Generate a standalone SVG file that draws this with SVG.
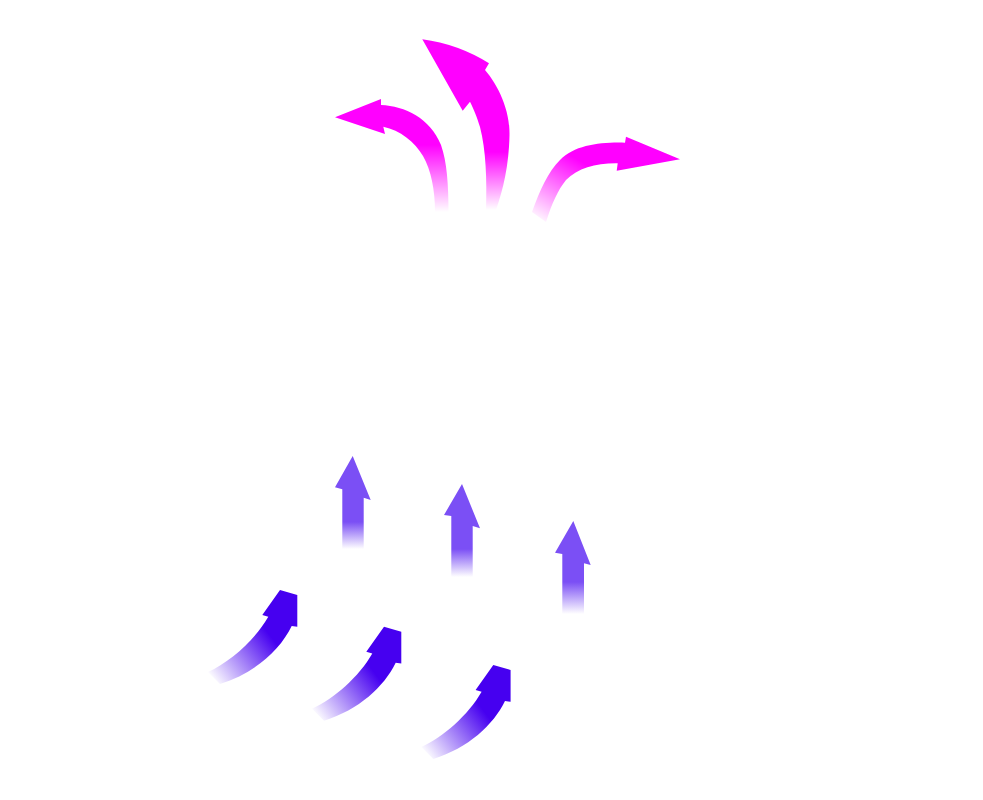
<svg xmlns="http://www.w3.org/2000/svg" xmlns:xlink="http://www.w3.org/1999/xlink" width="983" height="800" viewBox="0 0 983 800">
<defs>
<linearGradient id="gm1" gradientUnits="userSpaceOnUse" x1="0" y1="212" x2="0" y2="145"><stop offset="0" stop-color="#FF00FF" stop-opacity="0"/><stop offset="1" stop-color="#FF00FF"/></linearGradient>
<linearGradient id="gm2" gradientUnits="userSpaceOnUse" x1="0" y1="210" x2="0" y2="152"><stop offset="0" stop-color="#FF00FF" stop-opacity="0"/><stop offset="1" stop-color="#FF00FF"/></linearGradient>
<linearGradient id="gm3" gradientUnits="userSpaceOnUse" x1="538" y1="222" x2="575" y2="158"><stop offset="0" stop-color="#FF00FF" stop-opacity="0"/><stop offset="1" stop-color="#FF00FF"/></linearGradient>
<linearGradient id="gb" gradientUnits="userSpaceOnUse" x1="214" y1="682" x2="272" y2="638"><stop offset="0" stop-color="#4600F0" stop-opacity="0"/><stop offset="1" stop-color="#4600F0"/></linearGradient>
<linearGradient id="gs1" gradientUnits="userSpaceOnUse" x1="0" y1="549" x2="0" y2="522"><stop offset="0" stop-color="#7B4FF5" stop-opacity="0"/><stop offset="1" stop-color="#7B4FF5"/></linearGradient>
<linearGradient id="gs2" gradientUnits="userSpaceOnUse" x1="0" y1="577" x2="0" y2="549"><stop offset="0" stop-color="#7B4FF5" stop-opacity="0"/><stop offset="1" stop-color="#7B4FF5"/></linearGradient>
<linearGradient id="gs3" gradientUnits="userSpaceOnUse" x1="0" y1="614" x2="0" y2="582"><stop offset="0" stop-color="#7B4FF5" stop-opacity="0"/><stop offset="1" stop-color="#7B4FF5"/></linearGradient>
<path id="curvedBlue" d="M280,590 L297.3,595 L297.3,626.7 L291.7,626 C280,650 255,673 220,684 L208,672 C230,662 255,640 268.3,616.7 L262.3,615 Z"/>
</defs>
<rect width="983" height="800" fill="#FFFFFF"/>
<g id="outflow">
<path d="M335,117.3 L381,99 L381,105 C405,106 430,118 441,145 C447,162 448.5,185 448.5,212 L435,212 C435,190 431,170 423,156 C415,142 400,130 383.3,126.7 L385,134 Z" fill="url(#gm1)"/>
<path d="M422.3,39.3 Q458,44 489,63.3 L485,70 C498,85 510,110 509.5,135 C509,165 503,190 496,210 L486,210 C487,180 486,150 480,127 C477,117 474,110 470,101.7 L462.7,110.7 Z" fill="url(#gm2)"/>
<path d="M680,159.3 L626,136.7 L625,142.7 C600,142 575,145 560,160 C548,172 540,190 532,212 L546,222 C552,203 558,190 566,180 C578,168 596,163 617.7,163.3 L616.7,170.7 Z" fill="url(#gm3)"/>
</g>
<g id="rising">
<path d="M352.7,456 L370.7,500 L363.7,497.7 L363.7,550 L342.3,550 L342.3,489.3 L335,487.3 Z" fill="url(#gs1)"/>
<path d="M462,484 L480,528.3 L472.7,526 L472.7,578 L451.3,578 L451.3,516 L444,515 Z" fill="url(#gs2)"/>
<path d="M573.3,521 L590.7,565 L584,563.3 L584,615 L562.3,615 L562.3,554 L555,552.7 Z" fill="url(#gs3)"/>
</g>
<g id="inflow">
<use xlink:href="#curvedBlue" fill="url(#gb)"/>
<use xlink:href="#curvedBlue" fill="url(#gb)" transform="translate(104,36.7)"/>
<use xlink:href="#curvedBlue" fill="url(#gb)" transform="translate(213.3,75)"/>
</g>
</svg>
